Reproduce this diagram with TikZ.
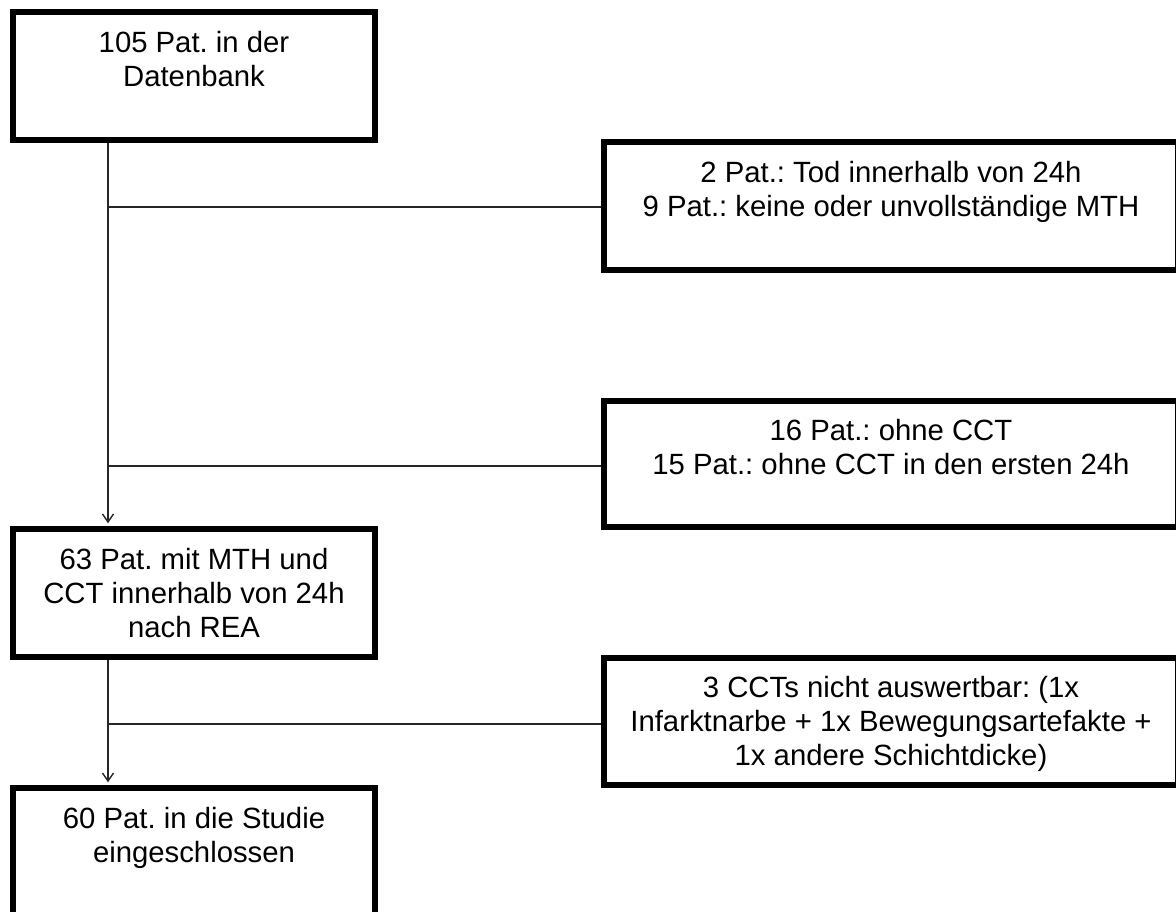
\documentclass[tikz,border=0pt]{standalone}
\usepackage{fontspec}
\setmainfont{Liberation Sans}
\usetikzlibrary{arrows.meta}
\frenchspacing
\begin{document}
\begin{tikzpicture}[x=1pt,y=-1pt,
  box/.style={draw=black,line width=5.5pt,fill=white,inner sep=0pt},
  txt/.style={anchor=north,align=center,inner sep=0pt,font=\fontsize{29.3}{34}\selectfont},
  conn/.style={draw=black!85,line width=1.6pt},
  arr/.style={conn,-{Straight Barb[length=8pt,width=11pt,line width=1.4pt]}}]
\useasboundingbox (0,0) rectangle (1176,912);
\clip (0,0) rectangle (1176,912);
\fill[white] (0,0) rectangle (1176,912);
% left column boxes
\node[box,minimum width=362,minimum height=128] (a) at (194,76) {};
\node[box,minimum width=362,minimum height=128] (d) at (194,593) {};
\node[box,minimum width=362,minimum height=130] (e) at (194,853) {};
% right column boxes
\node[box,minimum width=574,minimum height=128] (b) at (891,206) {};
\node[box,minimum width=574,minimum height=126] (c) at (891,464) {};
\node[box,minimum width=574,minimum height=127] (f) at (891,721.5) {};
% texts
\node[txt] (ta) at (194,31) {105 Pat. in der\\Datenbank};
\node[txt] (td) at (194,548) {63 Pat. mit MTH und\\CCT innerhalb von 24h\\nach REA};
\node[txt] (te) at (194,807) {60 Pat. in die Studie\\eingeschlossen};
\node[txt] (tb) at (891,161) {2 Pat.: Tod innerhalb von 24h\\9 Pat.: keine oder unvollständige MTH};
\node[txt] (tc) at (891,419) {16 Pat.: ohne CCT\\15 Pat.: ohne CCT in den ersten 24h};
\node[txt] (tf) at (891,676) {3 CCTs nicht auswertbar: (1x\\Infarktnarbe + 1x Bewegungsartefakte +\\1x andere Schichtdicke)};
% trunk coordinates
\coordinate (j1) at (108,207);
\coordinate (j2) at (108,466);
\coordinate (j3) at (108,724);
% connectors
\draw[arr] (a.south -| j1) -- ([yshift=3pt]d.north -| j1);
\draw[arr] (d.south -| j3) -- ([yshift=3pt]e.north -| j3);
\draw[conn] (j1) -- (j1 -| b.west);
\draw[conn] (j2) -- (j2 -| c.west);
\draw[conn] (j3) -- (j3 -| f.west);
\end{tikzpicture}
\end{document}
